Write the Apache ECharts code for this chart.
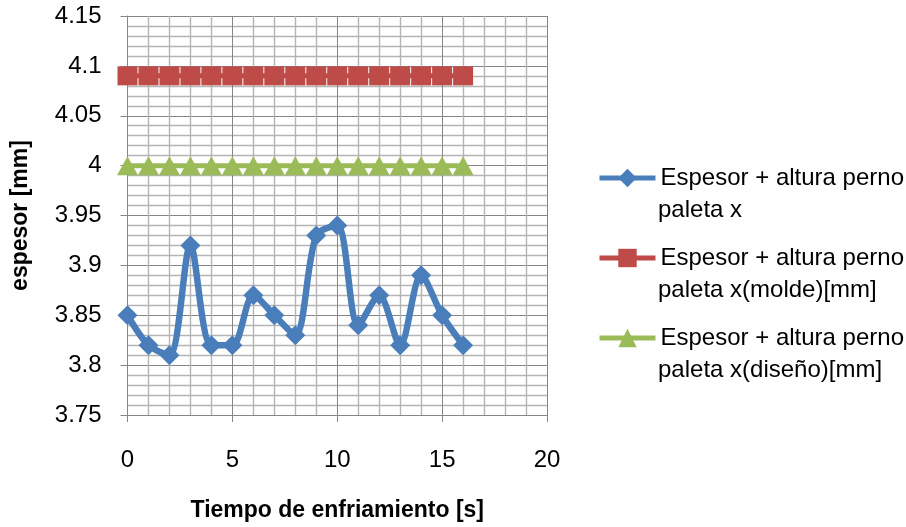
<!DOCTYPE html>
<html><head><meta charset="utf-8">
<script src="https://cdn.jsdelivr.net/npm/echarts@6/dist/echarts.min.js"></script>
<style>html,body{margin:0;padding:0;background:#fff}#c{width:906px;height:527px}</style>
</head><body><div id="c"></div>
<script>
// ---- data ----
const tiempo = [0,1,2,3,4,5,6,7,8,9,10,11,12,13,14,15,16];
const espesor = [3.85,3.82,3.81,3.92,3.82,3.82,3.87,3.85,3.83,3.93,3.94,3.84,3.87,3.82,3.89,3.85,3.82];
const molde = [4.09,4.09,4.09,4.09,4.09,4.09,4.09,4.09,4.09,4.09,4.09,4.09,4.09,4.09,4.09,4.09,4.09];
const diseno = [4.00,4.00,4.00,4.00,4.00,4.00,4.00,4.00,4.00,4.00,4.00,4.00,4.00,4.00,4.00,4.00,4.00];
const seriesLine1 = ['Espesor + altura perno', 'Espesor + altura perno', 'Espesor + altura perno'];
const seriesLine2 = ['paleta x', 'paleta x(molde)[mm]', 'paleta x(diseño)[mm]'];
const xTitle = 'Tiempo de enfriamiento [s]';
const yTitle = 'espesor [mm]';
const xRange = [0, 20, 5];
const yRange = [3.75, 4.15, 0.05];

// ---- chart ----
const FONT = "'Liberation Sans', Arial, sans-serif";
const names = seriesLine1.map((a, i) => a + ' ' + seriesLine2[i]);
const pairs = arr => tiempo.map((t, i) => [t, arr[i]]);
const colors = ['#4a7ebb', '#be4b48', '#9bbb59'];
const legendTops = [162, 242, 322];

const chart = echarts.init(document.getElementById('c'), null, {renderer: 'canvas'});
const axisCommon = {
  axisLine: {show: true, lineStyle: {color: '#868686', width: 1}},
  axisTick: {show: true, length: 7, lineStyle: {color: '#868686', width: 1}},
  splitLine: {show: true, lineStyle: {color: '#868686', width: 1}},
  minorTick: {show: true, splitNumber: 5, length: 0},
  minorSplitLine: {show: true, lineStyle: {color: '#b4b4b4', width: 1.4}}
};
chart.setOption({
  animation: false,
  backgroundColor: '#ffffff',
  textStyle: {fontFamily: FONT},
  grid: {left: 127.5, right: 359, top: 16, bottom: 110, containLabel: false},
  xAxis: Object.assign({
    type: 'value', min: xRange[0], max: xRange[1], interval: xRange[2],
    name: xTitle, nameLocation: 'middle', nameGap: 84,
    nameTextStyle: {fontFamily: FONT, fontSize: 23, fontWeight: 'bold', color: '#000'},
    axisLabel: {fontFamily: FONT, fontSize: 24, color: '#000', margin: 33}
  }, axisCommon),
  yAxis: Object.assign({
    type: 'value', min: yRange[0], max: yRange[1], interval: yRange[2],
    name: yTitle, nameLocation: 'middle', nameGap: 95, nameRotate: 90,
    nameTextStyle: {fontFamily: FONT, fontSize: 23, fontWeight: 'bold', color: '#000'},
    axisLabel: {fontFamily: FONT, fontSize: 24, color: '#000', margin: 26,
      formatter: v => String(parseFloat(v.toFixed(2)))}
  }, axisCommon),
  legend: names.map((n, i) => ({
    data: [n], left: 597, top: legendTops[i], orient: 'vertical', padding: 0,
    itemWidth: 56, itemHeight: 23, itemGap: 0,
    selectedMode: false,
    lineStyle: {width: 5},
    formatter: () => seriesLine1[i],
    textStyle: {fontFamily: FONT, fontSize: 24, color: '#000', lineHeight: 32}
  })),
  graphic: seriesLine2.map((t, i) => ({
    type: 'text', left: 658, top: legendTops[i] + 32,
    style: {text: t, font: '24px ' + FONT, fill: '#000', lineHeight: 32}
  })),
  series: [
    {name: names[0], type: 'line', data: pairs(espesor), smooth: 0.3,
      symbol: 'diamond', symbolSize: 20,
      lineStyle: {color: colors[0], width: 6.5}, itemStyle: {color: colors[0]}, z: 5},
    {name: names[1], type: 'line', data: pairs(molde),
      symbol: 'rect', symbolSize: [20, 19],
      lineStyle: {color: colors[1], width: 5}, itemStyle: {color: colors[1]}, z: 3},
    {name: names[2], type: 'line', data: pairs(diseno),
      symbol: 'triangle', symbolSize: [21, 19],
      lineStyle: {color: colors[2], width: 5}, itemStyle: {color: colors[2]}, z: 3}
  ]
});
</script></body></html>
